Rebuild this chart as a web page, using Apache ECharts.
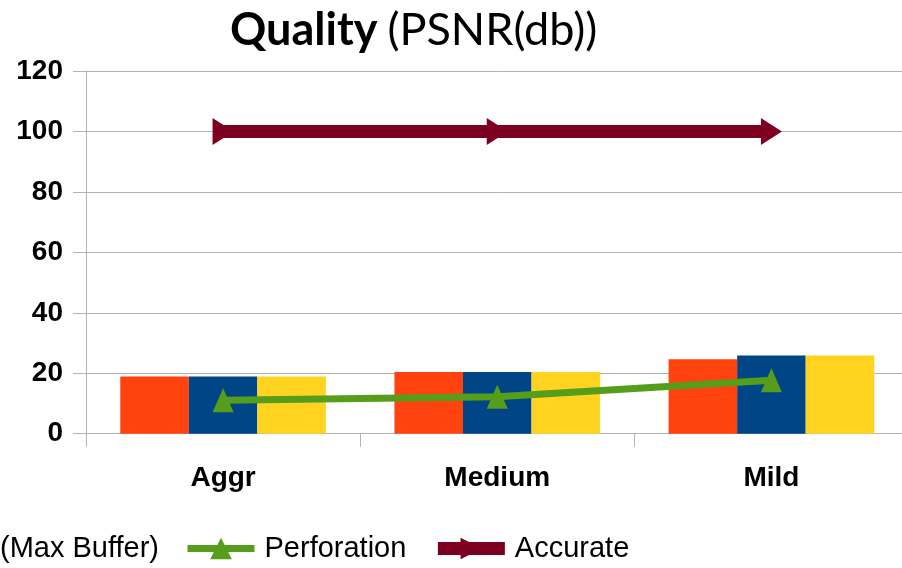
<!DOCTYPE html>
<html>
<head>
<meta charset="utf-8">
<script src="https://cdn.jsdelivr.net/npm/echarts@6/dist/echarts.min.js"></script>
<style>
  html, body { margin: 0; padding: 0; background: #fff; overflow: hidden; width: 902px; height: 568px; }
  /* The canvas is wider than the page: the legend starts left of the page
     edge and the plot area runs past the right edge. */
  #chart { position: absolute; left: -80px; top: 0; width: 992px; height: 568px; }
</style>
</head>
<body>
<div id="chart"></div>
<script>
// Compression levels along the x axis
const categories = ['Aggr', 'Medium', 'Mild'];
// PSNR (dB) per buffer configuration
const minBuffer = [18.9, 20.4, 24.6];
const midBuffer = [18.9, 20.4, 25.9];
const maxBuffer = [18.9, 20.4, 25.9];
const perforation = [11.1, 12.2, 17.7];
const accurate = [100, 100, 100];
// Value axis ticks
const yMin = 0, yMax = 120, yStep = 20;

const SHIFT = 80; // canvas starts this far left of the page
const AXIS_GRAY = '#b3b3b3';
const LABEL_FONT = 'Liberation Sans, Arial, sans-serif';

const chart = echarts.init(document.getElementById('chart'), null, { renderer: 'canvas' });

chart.setOption({
  animation: false,
  backgroundColor: '#ffffff',
  title: {
    left: SHIFT + 230,
    top: 7,
    padding: 0,
    text: '{b|Quality}  {r|(PSNR(db))}',
    textStyle: {
      rich: {
        b: { fontFamily: 'Lato', fontWeight: 'bold', fontSize: 45, color: '#000', lineHeight: 46 },
        r: { fontFamily: 'Lato', fontWeight: 'normal', fontSize: 45, color: '#000', lineHeight: 46 }
      }
    }
  },
  legend: {
    left: SHIFT - 77,
    top: 534,
    padding: 0,
    itemGap: 25,
    itemWidth: 67,
    itemHeight: 27,
    lineStyle: { width: 'inherit' },
    textStyle: { fontFamily: LABEL_FONT, fontSize: 29, color: '#000', padding: [0, 0, 0, 5] },
    data: [
      { name: '(Max Buffer)', icon: 'none' },
      'Perforation',
      'Accurate'
    ]
  },
  grid: { left: SHIFT + 86, right: 3.5, top: 71, bottom: 134.3, containLabel: false },
  xAxis: {
    type: 'category',
    data: categories,
    boundaryGap: true,
    axisLine: { show: true, lineStyle: { color: AXIS_GRAY, width: 1 } },
    axisTick: { show: true, length: 13, interval: 0, lineStyle: { color: AXIS_GRAY } },
    axisLabel: { fontFamily: LABEL_FONT, fontWeight: 'bold', fontSize: 28, color: '#000', margin: 31, interval: 0 },
    splitLine: { show: false }
  },
  yAxis: {
    type: 'value',
    min: yMin,
    max: yMax,
    interval: yStep,
    axisLine: { show: true, lineStyle: { color: AXIS_GRAY, width: 1 } },
    axisTick: { show: true, length: 13, lineStyle: { color: AXIS_GRAY } },
    axisLabel: { fontFamily: LABEL_FONT, fontWeight: 'bold', fontSize: 28, color: '#000', margin: 23 },
    splitLine: { show: true, lineStyle: { color: AXIS_GRAY, width: 1 } }
  },
  series: [
    {
      name: 'Min Buffer', type: 'bar', data: minBuffer,
      barGap: 0, barCategoryGap: '25%',
      itemStyle: { color: '#ff420e' }
    },
    {
      name: 'Mid Buffer', type: 'bar', data: midBuffer,
      barGap: 0, barCategoryGap: '25%',
      itemStyle: { color: '#004586' }
    },
    {
      name: '(Max Buffer)', type: 'bar', data: maxBuffer,
      barGap: 0, barCategoryGap: '25%',
      itemStyle: { color: '#ffd320' }
    },
    {
      name: 'Perforation', type: 'line', data: perforation,
      symbol: 'triangle', symbolSize: [21, 24],
      lineStyle: { color: '#579d1c', width: 7 },
      itemStyle: { color: '#579d1c' },
      z: 5
    },
    {
      name: 'Accurate', type: 'line', data: accurate,
      symbol: 'triangle', symbolSize: [27, 21], symbolRotate: -90,
      lineStyle: { color: '#7e0021', width: 13 },
      itemStyle: { color: '#7e0021' },
      z: 5
    }
  ]
});
</script>
</body>
</html>
